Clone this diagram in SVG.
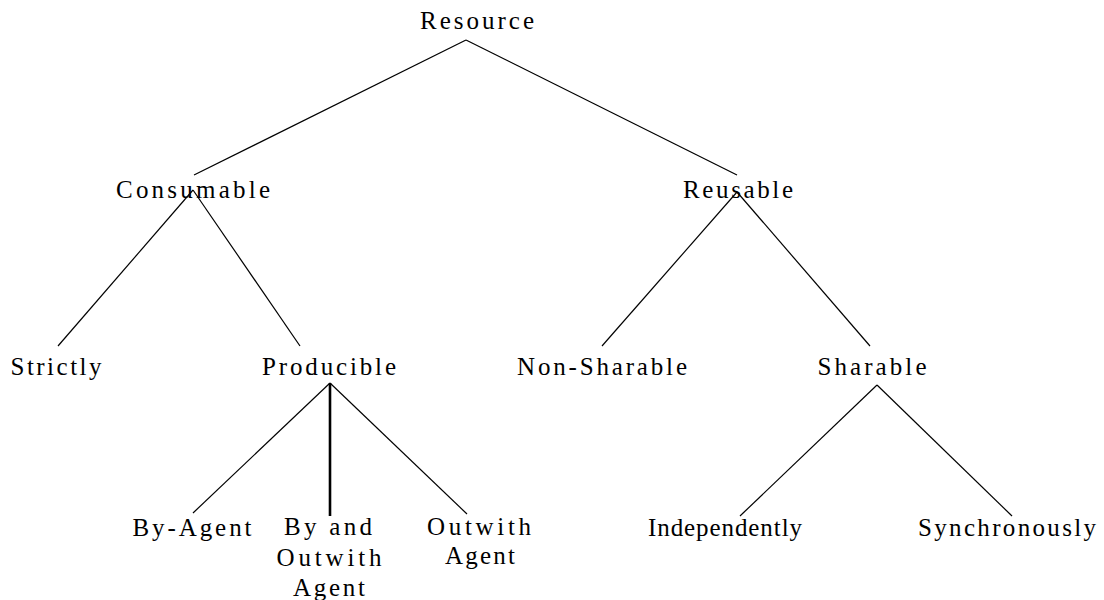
<svg xmlns="http://www.w3.org/2000/svg" width="1104" height="600" viewBox="0 0 1104 600">
<style>
text{font-family:"Liberation Serif","DejaVu Serif",serif;font-size:25px;fill:#000;text-anchor:middle}
.e{stroke:#000;stroke-width:1.2;fill:none}
.v{stroke:#000;stroke-width:2.6;fill:none}
</style>
<rect width="1104" height="600" fill="#fff"/>
<g id="connectors">
<line class="e" x1="466" y1="40" x2="194" y2="175"/>
<line class="e" x1="466" y1="40" x2="737" y2="175"/>
<line class="e" x1="193" y1="190" x2="58" y2="346"/>
<line class="e" x1="193" y1="190" x2="300" y2="346"/>
<line class="e" x1="737" y1="192" x2="602" y2="346"/>
<line class="e" x1="737" y1="192" x2="870" y2="346"/>
<line class="e" x1="330" y1="383" x2="193" y2="513"/>
<line class="v" x1="330" y1="383" x2="330" y2="516"/>
<line class="e" x1="330" y1="383" x2="467" y2="514"/>
<line class="e" x1="877" y1="385" x2="740" y2="516"/>
<line class="e" x1="877" y1="385" x2="1012" y2="516"/>
</g>
<g id="resource"><text x="477" y="29" textLength="114" lengthAdjust="spacing">Resource</text></g>
<g id="consumable"><text x="193" y="198" textLength="154" lengthAdjust="spacing">Consumable</text></g>
<g id="reusable"><text x="738" y="198" textLength="110" lengthAdjust="spacing">Reusable</text></g>
<g id="strictly"><text x="56" y="375" textLength="91" lengthAdjust="spacing">Strictly</text></g>
<g id="producible"><text x="329" y="375" textLength="134" lengthAdjust="spacing">Producible</text></g>
<g id="non-sharable"><text x="602" y="375" textLength="170" lengthAdjust="spacing">Non-Sharable</text></g>
<g id="sharable"><text x="872" y="375" textLength="109" lengthAdjust="spacing">Sharable</text></g>
<g id="by-agent"><text x="192" y="536" textLength="119" lengthAdjust="spacing">By-Agent</text></g>
<g id="by-and-outwith-agent">
<text x="328" y="535" textLength="88" lengthAdjust="spacing">By and</text>
<text x="329" y="566" textLength="105" lengthAdjust="spacing">Outwith</text>
<text x="329" y="596" textLength="72" lengthAdjust="spacing">Agent</text>
</g>
<g id="outwith-agent">
<text x="479" y="535" textLength="104" lengthAdjust="spacing">Outwith</text>
<text x="480" y="564" textLength="70" lengthAdjust="spacing">Agent</text>
</g>
<g id="independently"><text x="725" y="536" textLength="154" lengthAdjust="spacing">Independently</text></g>
<g id="synchronously"><text x="1007" y="536" textLength="178" lengthAdjust="spacing">Synchronously</text></g>
</svg>
